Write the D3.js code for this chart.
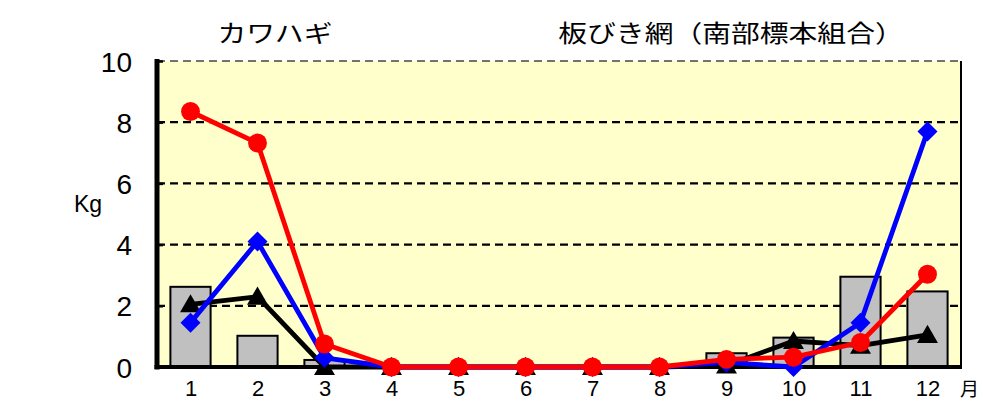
<!DOCTYPE html>
<html><head><meta charset="utf-8">
<script src="https://cdn.jsdelivr.net/npm/d3@7"></script>
<style>html,body{margin:0;padding:0;background:#fff;}svg{display:block;}</style>
</head><body>
<script>
const months = ["1","2","3","4","5","6","7","8","9","10","11","12"];
const barValues = [2.62, 1.02, 0.23, 0, 0, 0, 0, 0, 0.45, 0.96, 2.95, 2.47];
const blackValues = [2.05, 2.3, 0, 0, 0, 0, 0, 0, 0.05, 0.85, 0.7, 1.05];
const blueValues = [1.45, 4.1, 0.3, 0, 0, 0, 0, 0, 0.15, 0, 1.45, 7.7];
const redValues = [8.35, 7.32, 0.75, 0, 0, 0, 0, 0, 0.25, 0.32, 0.8, 3.03];
const yTicks = [0, 2, 4, 6, 8, 10];
const titleLeft = "カワハギ";
const titleRight = "板びき網（南部標本組合）";
const yLabel = "Kg";
const xUnit = "月";

const W = 983, H = 401;
const svg = d3.select("body").append("svg").attr("width", W).attr("height", H);
const pLeft = 157, pRight = 961, pTop = 61, pBottom = 367;

const x = d3.scaleBand().domain(months).range([pLeft, pRight]).paddingInner(0.4).paddingOuter(0.2);
const xc = d3.scalePoint().domain(months).range([pLeft, pRight]).padding(0.5);
const y = d3.scaleLinear().domain([0, 10]).range([pBottom, pTop]);

svg.append("rect").attr("x", pLeft).attr("y", pTop).attr("width", pRight - pLeft).attr("height", pBottom - pTop).attr("fill", "#FFFFCC");

// gridlines
svg.append("g").selectAll("line").data(yTicks.filter(d => d > 0 && d < 10)).join("line")
  .attr("x1", pLeft).attr("x2", pRight).attr("y1", d => y(d)).attr("y2", d => y(d))
  .attr("stroke", "#000").attr("stroke-width", 2.2).attr("stroke-dasharray", "8,5");
svg.append("line").attr("x1", pLeft).attr("x2", pRight).attr("y1", y(10)).attr("y2", y(10))
  .attr("stroke", "#444").attr("stroke-width", 1.6).attr("stroke-dasharray", "8,5");

// right border
svg.append("line").attr("x1", pRight).attr("x2", pRight).attr("y1", y(10)).attr("y2", y(0))
  .attr("stroke", "#000").attr("stroke-width", 2);

// bars
svg.append("g").selectAll("rect").data(months).join("rect")
  .attr("x", d => x(d)).attr("width", x.bandwidth())
  .attr("y", (d, i) => y(barValues[i])).attr("height", (d, i) => y(0) - y(barValues[i]))
  .attr("fill", "#C0C0C0").attr("stroke", "#000").attr("stroke-width", 2);

// axes
const yAxis = d3.axisLeft(y).tickValues(yTicks).tickSize(-6).tickPadding(25).tickFormat(d3.format("d"));
const gy = svg.append("g").attr("transform", `translate(${pLeft},0)`).call(yAxis);
gy.select(".domain").remove();
gy.selectAll(".tick line").attr("stroke", "#000").attr("stroke-width", 2.5);
gy.selectAll("text").attr("font-family", "Liberation Sans, Arial, sans-serif").attr("font-size", 28).attr("fill", "#000").attr("dy", "0.36em");
svg.append("line").attr("x1", pLeft).attr("x2", pLeft).attr("y1", y(10) - 2).attr("y2", y(0) + 2.5)
  .attr("stroke", "#000").attr("stroke-width", 5);

const xAxis = d3.axisBottom(xc).tickSize(0).tickPadding(13);
const gx = svg.append("g").attr("transform", `translate(0,${pBottom})`).call(xAxis);
gx.select(".domain").remove();
gx.selectAll("text").attr("font-family", "Liberation Sans, Arial, sans-serif").attr("font-size", 22).attr("fill", "#000");
svg.append("line").attr("x1", pLeft - 2.5).attr("x2", pRight + 1).attr("y1", pBottom).attr("y2", pBottom)
  .attr("stroke", "#000").attr("stroke-width", 4);

// lines
const diamond = d3.symbol().type(d3.symbolSquare).size(200);
function drawSeries(vals, color, kind) {
  const line = d3.line().x((d, i) => xc(months[i])).y(d => y(d));
  svg.append("path").datum(vals).attr("d", line).attr("fill", "none").attr("stroke", color).attr("stroke-width", 4.8).attr("stroke-linejoin", "round");
  const g = svg.append("g").selectAll("path").data(vals).join("path").attr("fill", color);
  if (kind === "triangle") {
    g.attr("transform", (d, i) => `translate(${xc(months[i])},${y(d) + 2})`).attr("d", d3.symbol().type(d3.symbolTriangle).size(190));
  } else if (kind === "diamond") {
    g.attr("transform", (d, i) => `translate(${xc(months[i])},${y(d)}) rotate(45)`).attr("d", diamond);
  } else {
    g.attr("transform", (d, i) => `translate(${xc(months[i])},${y(d)})`).attr("d", d3.symbol().type(d3.symbolCircle).size(280));
  }
}
drawSeries(blackValues, "#000", "triangle");
drawSeries(blueValues, "#0000FF", "diamond");
drawSeries(redValues, "#FF0000", "circle");

// texts
const jp = "Noto Sans CJK JP, sans-serif";
svg.append("text").attr("transform", "translate(275,42) scale(1.2,1)").attr("text-anchor", "middle")
  .attr("font-family", jp).attr("font-size", 24).text(titleLeft);
svg.append("text").attr("transform", "translate(731,42) scale(1.2,1)").attr("text-anchor", "middle")
  .attr("font-family", jp).attr("font-size", 24).text(titleRight);
svg.append("text").attr("x", 74).attr("y", 212).attr("font-family", "Liberation Sans, Arial, sans-serif").attr("font-size", 23).text(yLabel);
svg.append("text").attr("x", 960).attr("y", 396).attr("font-family", jp).attr("font-size", 19).text(xUnit);
</script>
</body></html>
